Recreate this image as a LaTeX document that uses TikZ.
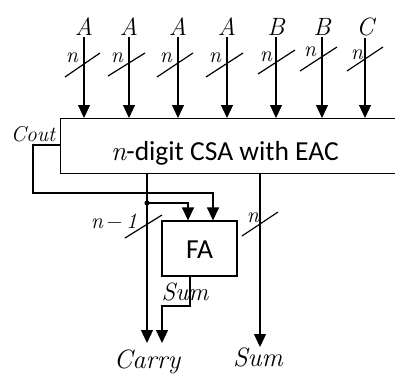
\documentclass[tikz,border=0pt]{standalone}
\usepackage{fontspec}
\newfontfamily\calibri{Carlito}
\usetikzlibrary{arrows.meta,calc}
\begin{document}
\begin{tikzpicture}[x=1pt,y=-1pt, line width=1.2pt,
  arr/.style={-{Triangle[width=12pt,length=13pt]}},
  mlbl/.style={font=\itshape\fontsize{25}{29}\selectfont, inner sep=0pt},
  blbl/.style={font=\itshape\fontsize{26.5}{30}\selectfont, inner sep=0pt},
  slbl/.style={font=\itshape\fontsize{22}{26}\selectfont, inner sep=0pt},
  clbl/.style={font=\itshape\fontsize{21.5}{25}\selectfont, inner sep=0pt},
  box/.style={draw, line width=1.2pt, inner sep=0pt},
  boxtxt/.style={font=\calibri\fontsize{27.5}{31}\selectfont, inner sep=0pt}]
\useasboundingbox (0,0) rectangle (395,376);
\clip (0,0) rectangle (395,376);
% main CSA box (extends past the right edge)
\node[box, anchor=north west, minimum width=350pt, minimum height=55pt] (csa) at (60,118) {};
\node[boxtxt, anchor=base] (csatxt) at (225,160) {{\rmfamily\itshape n}-digit CSA with EAC};
% FA box
\node[box, minimum width=75pt, minimum height=55pt] (fa) at (199.5,248.5) {};
\node[boxtxt, anchor=base] (fatxt) at (199.5,258) {FA};
% top inputs
\foreach \nm/\x/\t in {a1/84/A, a2/129/A, a3/178/A, a4/227/A, b1/276/B, b2/322/B, c1/365/C}{
  \node[mlbl, anchor=base, inner sep=1.5pt] (\nm) at (\x,35) {\t};
  \draw[arr] (\nm.south) -- (\nm |- csa.north);
}
% slashes on inputs
\draw (65,77) -- (100,53);
\draw (108,76) -- (145,53);
\draw (157,77) -- (193,53);
\draw (206,77) -- (243,53);
\draw (258,74) -- (295,50);
\draw (300,71) -- (337,47);
\draw (347,71) -- (383,47);
\node[slbl] (n1) at (72,58) {n};
\node[slbl] (n2) at (117,58) {n};
\node[slbl] (n3) at (166,58) {n};
\node[slbl] (n4) at (215,58) {n};
\node[slbl] (n5) at (266,57) {n};
\node[slbl] (n6) at (310,52) {n};
\node[slbl] (n7) at (357,55) {n};
% Cout feedback
\node[clbl] (cout) at (33,134) {Cout};
\coordinate (cl) at (33,193);
\draw[arr] (csa.west |- 0,145) -| (cl) -| ($(fa.north)+(13.5,0)$);
% carry vector line with tap to FA
\coordinate (dot) at (147,203);
\node[blbl, anchor=base] (carry) at (147,368) {Carry};
\draw[arr] (csa.south -| dot) -- (147,343);
\fill (dot) circle (2.6pt);
\draw[arr] (dot) -| ($(fa.north)+(-11.5,0)$);
\draw (125,238) -- (162,215);
\node[slbl] (nm1) at (114,221) {n\,{\upshape −}\,1};
% FA sum output
\node[mlbl, anchor=base] (fasum) at (185,300) {Sum};
\coordinate (fs) at (190,306);
\draw[arr] (fa.south -| fs) -- (fs) -| (162,343);
% sum vector
\node[blbl, anchor=base] (sum) at (258,366) {Sum};
\draw[arr] (csa.south -| 260,0) -- (260,347);
\draw (242,236) -- (278,212);
\node[slbl] (n8) at (253,218) {n};
\end{tikzpicture}
\end{document}
